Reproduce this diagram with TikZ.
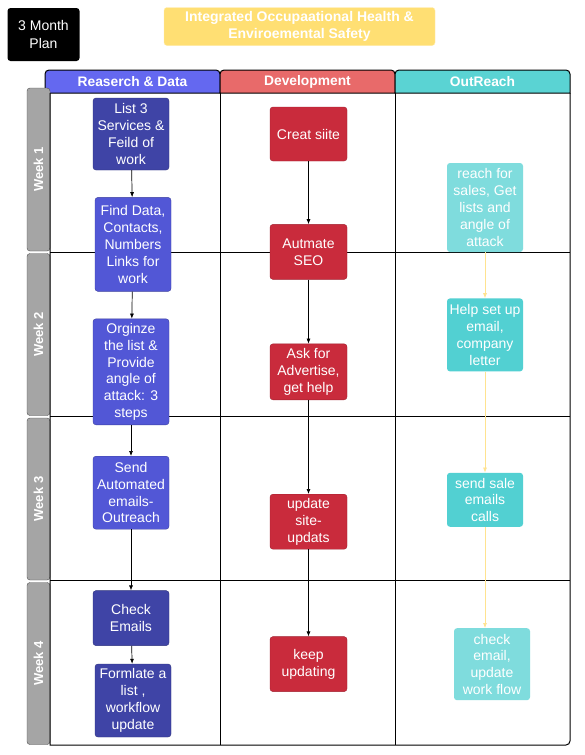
\documentclass[tikz,border=0pt]{standalone}
\usepackage{fontspec}
\setmainfont{Liberation Sans}
\usepackage{xcolor}
\usetikzlibrary{positioning,arrows.meta}

\definecolor{resblue}{HTML}{5257D6}
\definecolor{resdark}{HTML}{3F44A6}
\definecolor{hdrres}{HTML}{6468F0}
\definecolor{devred}{HTML}{C92B3C}
\definecolor{hdrdev}{HTML}{E86A6A}
\definecolor{outteal}{HTML}{52D0D2}
\definecolor{outpale}{HTML}{7FDCDD}
\definecolor{hdrout}{HTML}{5AD3D3}
\definecolor{weekgray}{HTML}{A5A5A5}
\definecolor{titleyel}{HTML}{FFDF73}
\definecolor{flowyel}{HTML}{FFE390}

\begin{document}
\begin{tikzpicture}[x=1pt, y=-1pt, >={Latex[length=5pt,width=4pt]},
    txt/.style={text=white, align=center, font=\fontsize{14}{16.8}\selectfont, inner sep=1pt},
    resbox/.style={txt, rectangle, rounded corners=3pt, fill=resblue, draw=resblue!75!black, minimum width=76pt},
    resdk/.style={resbox, fill=resdark, draw=resdark!75!black},
    devbox/.style={txt, rectangle, rounded corners=3pt, fill=devred, draw=devred!80!black, minimum width=77pt},
    outbox/.style={txt, rectangle, rounded corners=3pt, fill=outteal, minimum width=76pt},
    outlight/.style={outbox, fill=outpale},
    weekbar/.style={rectangle, rounded corners=3pt, fill=weekgray, draw=weekgray!50!black, rotate=90, minimum width=162pt, minimum height=23pt, text=white, font=\bfseries\fontsize{13}{15}\selectfont},
    hdr/.style={text=white, font=\bfseries\fontsize{13.8}{16}\selectfont},
    lane/.style={line width=1pt},
    flow/.style={->, line width=0.7pt},
    flowout/.style={->, line width=0.7pt, draw=flowyel, fill=flowyel}]
        \path[use as bounding box, fill=white] (0,0) rectangle (584,755);

        % Title boxes
        \node[txt, fill=black, rounded corners=3pt, minimum width=72pt, minimum height=53pt, font=\fontsize{14}{17.3}\selectfont] (plan) at (43.5,34.5) {3 Month\\Plan};
        \node[txt, fill=titleyel, draw=titleyel!60!white, rounded corners=3pt, minimum width=271pt, minimum height=38pt, font=\bfseries\fontsize{14}{16.7}\selectfont] (title) at (299.5,26.5) {Integrated Occupaational Health \&\\Enviroemental Safety};

        % Lane headers
        \draw[lane, fill=hdrres] (45,93) -- (45,80) [rounded corners=4pt] -- (45,70) -- (220,70) -- (220,80) [sharp corners] -- (220,93) -- cycle;
        \draw[lane, fill=hdrdev] (220,93) -- (220,80) [rounded corners=4pt] -- (220,70) -- (395,70) -- (395,80) [sharp corners] -- (395,93) -- cycle;
        \draw[lane, fill=hdrout] (395,93) -- (395,80) [rounded corners=4pt] -- (395,70) -- (570,70) -- (570,80) [sharp corners] -- (570,93) -- cycle;
        \node[hdr] (hres) at (132.5,81.5) {Reaserch \& Data};
        \node[hdr] (hdev) at (307.5,81.5) {Development};
        \node[hdr] (hout) at (482.5,81.5) {OutReach};

        % Week bars
        \node[weekbar, minimum width=163pt] (wk1) at (38.5,169.5) {Week 1};
        \node[weekbar] (wk2) at (38.5,334.5) {Week 2};
        \node[weekbar] (wk3) at (38.5,499) {Week 3};
        \node[weekbar] (wk4) at (38.5,663.5) {Week 4};

        % Lane grid
        \draw[lane] (50,93) -- (50,745) -- (560,745) [rounded corners=4pt] -- (570,745) -- (570,735) [sharp corners] -- (570,93);
        \draw[lane] (220,93) -- (220,745);
        \draw[lane] (395,93) -- (395,745);
        \draw[lane] (50,252) -- (570,252);
        \draw[lane] (50,416.5) -- (570,416.5);
        \draw[lane] (50,580.5) -- (570,580.5);

        % Reaserch & Data tasks
        \node[resdk, minimum height=72pt] (list3) at (131,134) {List 3\\Services \&\\Feild of\\work};
        \node[resbox, minimum height=94pt, below=27pt of list3, xshift=2pt] (finddata) {Find Data,\\Contacts,\\Numbers\\Links for\\work};
        \node[resbox, minimum height=106pt, below=27pt of finddata, xshift=-2pt] (orginze) {Orginze\\the list \&\\Provide\\angle of\\attack: 3\\steps};
        \node[resbox, minimum height=73pt, below=31pt of orginze] (sendauto) {Send\\Automated\\emails-\\Outreach};
        \node[resdk, minimum height=55pt, below=61pt of sendauto] (checkem) {Check\\Emails};
        \node[resdk, minimum height=73pt, below=18pt of checkem, xshift=2pt] (formlate) {Formlate a\\list ,\\workflow\\update};

        % Development tasks
        \node[devbox, minimum height=54pt] (creat) at (308.5,134) {Creat siite};
        \node[devbox, minimum height=55pt, below=63pt of creat] (autmate) {Autmate\\SEO};
        \node[devbox, minimum height=56pt, below=64pt of autmate] (askfor) {Ask for\\Advertise,\\get help};
        \node[devbox, minimum height=55pt, below=94pt of askfor] (updsite) {update\\site-\\updats};
        \node[devbox, minimum height=55pt, below=87pt of updsite] (keepupd) {keep\\updating};

        % OutReach tasks
        \node[outlight, minimum height=89pt] (reach) at (485,207.5) {reach for\\sales, Get\\lists and\\angle of\\attack};
        \node[outbox, minimum height=73pt, below=46pt of reach] (helpset) {Help set up\\email,\\company\\letter};
        \node[outbox, minimum height=54pt, below=101pt of helpset] (sendsale) {send sale\\emails\\calls};
        \node[outlight, minimum height=72pt, below=101pt of sendsale, xshift=7pt] (checkmail) {check\\email,\\update\\work flow};

        % Arrows
        \draw[flow] (list3) -- (finddata);
        \draw[flow] (finddata) -- (orginze);
        \draw[flow] (orginze) -- (sendauto);
        \draw[flow] (sendauto) -- (checkem);
        \draw[flow] (checkem) -- (formlate);
        \draw[flow] (creat) -- (autmate);
        \draw[flow] (autmate) -- (askfor);
        \draw[flow] (askfor) -- (updsite);
        \draw[flow] (updsite) -- (keepupd);
        \draw[flowout] (reach) -- (helpset);
        \draw[flowout] (helpset) -- (sendsale);
        \draw[flowout] (sendsale) -- (sendsale |- checkmail.north); % ends on top of the last box
\end{tikzpicture}
\end{document}
